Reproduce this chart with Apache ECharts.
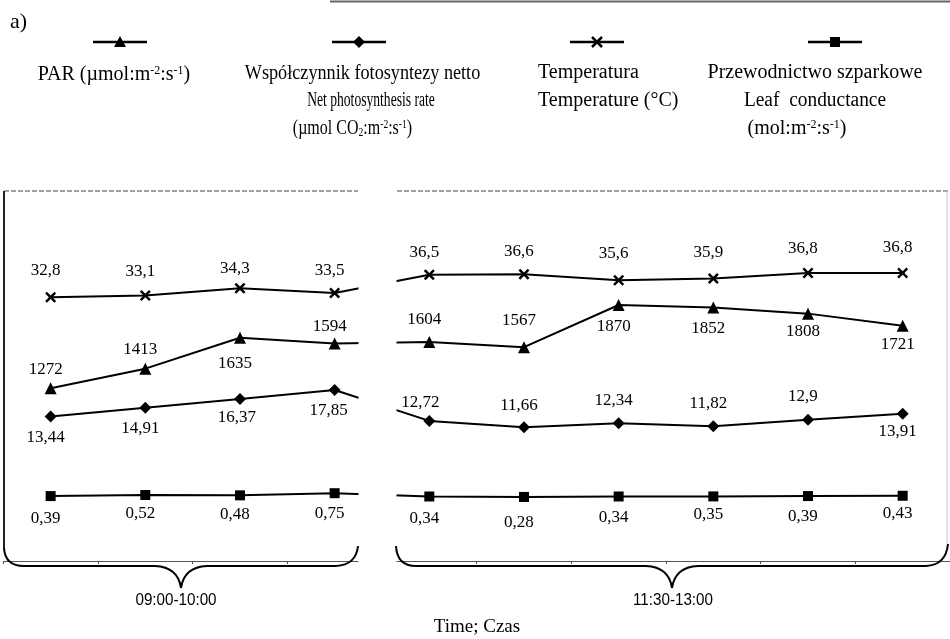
<!DOCTYPE html>
<html><head><meta charset="utf-8">
<script src="https://cdn.jsdelivr.net/npm/echarts@6/dist/echarts.min.js"></script>
<style>html,body{margin:0;padding:0;background:#fff}#c{width:950px;height:639px}</style>
</head><body><div id="c"></div>
<script>
// ---- data ----
const categories = ['1','2','3','4','5','6','7','8','9','10'];
const groupLabels = ['09:00-10:00', '11:30-13:00'];
const axisTitle = 'Time; Czas';
const parValues   = [1272, 1413, 1635, 1594, 1604, 1567, 1870, 1852, 1808, 1721];
const photoValues = [13.44, 14.91, 16.37, 17.85, 12.72, 11.66, 12.34, 11.82, 12.9, 13.91];
const tempValues  = [32.8, 33.1, 34.3, 33.5, 36.5, 36.6, 35.6, 35.9, 36.8, 36.8];
const condValues  = [0.39, 0.52, 0.48, 0.75, 0.34, 0.28, 0.34, 0.35, 0.39, 0.43];

// ---- layout / style (not data) ----
const SERIF = 'Liberation Serif';
const SANS = 'Liberation Sans';
const INK = '#000';
const parDy   = [-19, -19, 26, -17, -23, -27, 22, 21, 18, 19];
const photoDy = [21, 21, 19, 21, -18, -22, -23, -23, -23, 18];
const photoDx = [-5, -5, -3, -6, -9, -5, -5, -5, -5, -5];
const tempDy  = [-27, -24, -20, -23, -22, -23, -27, -26, -24, -25];
const condDy  = [22, 18, 19, 20, 22, 26, 21, 18, 20, 18];
const yRanges = { par: [32.2, 2767.3], photo: [-10.51, 52.67], temp: [-10.57, 52.09], cond: [-7.725, 39.9] };

const crossPath = 'path://M0,1.6L1.6,0L5,3.4L8.4,0L10,1.6L6.6,5L10,8.4L8.4,10L5,6.6L1.6,10L0,8.4L3.4,5Z';
const fmt = v => String(v).replace('.', ',');

function items(values, dy, dx) {
  return values.map((v, i) => ({
    value: v,
    label: { offset: [dx ? dx[i] : -5, dy[i]] }
  }));
}

function lineSeries(name, values, yIdx, symbol, size, dy, dx) {
  return {
    name, type: 'line', yAxisIndex: yIdx,
    data: items(values, dy, dx),
    symbol, symbolSize: size,
    lineStyle: { color: INK, width: 2 },
    itemStyle: { color: INK },
    label: {
      show: true, position: 'inside',
      fontFamily: SERIF, fontSize: 17, color: INK,
      formatter: p => fmt(p.value)
    },
    z: 5
  };
}

const supStyle = { fontFamily: SERIF, fontSize: 12, verticalAlign: 'top', fill: INK };
const subStyle = { fontFamily: SERIF, fontSize: 12, verticalAlign: 'bottom', fill: INK };
function txt(text, x, y, align, sx) {
  return {
    type: 'text', z: 110, x, y, scaleX: sx || 1,
    style: {
      text, x: 0, y: 0, align: align || 'center', verticalAlign: 'middle',
      fontFamily: SERIF, fontSize: 20, fill: INK,
      rich: { sup: supStyle, sub: subStyle }
    }
  };
}
function plain(text, x, y, family, size, sx) {
  return {
    type: 'text', z: 110, x, y, scaleX: sx || 1,
    style: { text, x: 0, y: 0, align: 'center', verticalAlign: 'middle', fontFamily: family, fontSize: size, fill: INK }
  };
}
function seg(x1, y1, x2, y2, stroke, w, dash) {
  const s = { stroke: stroke || INK, lineWidth: w || 2 };
  if (dash) s.lineDash = dash;
  return { type: 'line', z: 110, shape: { x1, y1, x2, y2 }, style: s };
}
function curve(x1, y1, cx, cy, x2, y2) {
  return { type: 'bezierCurve', z: 110, shape: { x1, y1, x2, y2, cpx1: cx, cpy1: cy }, style: { stroke: INK, lineWidth: 2, fill: null } };
}
function brace(xL, xR, xP, yTopEnd, yH, yP) {
  return [
    curve(xL, yTopEnd, xL + 1, yH, xL + 20, yH),
    seg(xL + 20, yH, xP - 26, yH),
    curve(xP - 26, yH, xP - 3, yH + 1, xP, yP),
    curve(xP, yP, xP + 3, yH + 1, xP + 26, yH),
    seg(xP + 26, yH, xR - 22, yH),
    curve(xR - 22, yH, xR - 2, yH - 1, xR, yTopEnd - 2)
  ];
}

const chart = echarts.init(document.getElementById('c'), null, { renderer: 'canvas' });

const graphics = [
  { type: 'text', z: 110, style: { text: 'a)', x: 10, y: 22, verticalAlign: 'middle', fontFamily: SERIF, fontSize: 22, fill: INK } },
  seg(330, 1.5, 950, 1.5, '#666', 2),
  // legend icons
  seg(93, 42, 147, 42, INK, 2.5),
  { type: 'polygon', z: 111, shape: { points: [[114, 47], [120, 36], [126, 47]] }, style: { fill: INK } },
  seg(332, 42, 386, 42, INK, 2.5),
  { type: 'polygon', z: 111, shape: { points: [[359, 36], [365, 42], [359, 48], [353, 42]] }, style: { fill: INK } },
  seg(570, 42, 624, 42, INK, 2.5),
  { type: 'line', z: 111, shape: { x1: 592, y1: 37, x2: 602, y2: 47 }, style: { stroke: INK, lineWidth: 2.5 } },
  { type: 'line', z: 111, shape: { x1: 602, y1: 37, x2: 592, y2: 47 }, style: { stroke: INK, lineWidth: 2.5 } },
  seg(808, 42, 862, 42, INK, 2.5),
  { type: 'rect', z: 111, shape: { x: 830, y: 37, width: 10, height: 10 }, style: { fill: INK } },
  // legend texts
  txt('PAR (µmol:m{sup|-2}:s{sup|-1})', 114, 75, 'center', 1.0),
  txt('Współczynnik fotosyntezy netto', 362.5, 74, 'center', 0.91),
  txt('Net photosynthesis rate', 371, 101, 'center', 0.68),
  txt('(µmol CO{sub|2}:m{sup|-2}:s{sup|-1})', 352.5, 129, 'center', 0.8),
  txt('Temperatura', 538, 73, 'left', 1.0),
  txt('Temperature (°C)', 538, 101, 'left', 1.0),
  txt('Przewodnictwo szparkowe', 815, 73, 'center', 1.0),
  txt('Leaf  conductance', 815, 101, 'center', 0.97),
  txt('(mol:m{sup|-2}:s{sup|-1})', 797, 129, 'center', 1.0),
  // gap between the two panels
  { type: 'rect', z: 100, shape: { x: 358.5, y: 175, width: 38, height: 400 }, style: { fill: '#fff' } },
  // frames
  seg(4, 191, 358, 191, '#444', 1.2, [5, 2]),
  seg(397, 191, 948, 191, '#444', 1.2, [5, 2]),
  seg(947, 191, 947, 545, '#ccc', 1),
  seg(4, 191, 4, 548, '#222', 2),
  ...brace(4, 358, 181, 548, 566, 588),
  ...brace(396, 948, 672, 546, 566, 588),
  // group labels and title
  plain(groupLabels[0], 176, 601, SANS, 16, 0.95),
  plain(groupLabels[1], 673, 601, SANS, 16, 0.95),
  plain(axisTitle, 477, 627, SERIF, 19, 1)
];

const yAxis = ['par', 'photo', 'temp', 'cond'].map(k => ({
  type: 'value', show: false, min: yRanges[k][0], max: yRanges[k][1],
  splitLine: { show: false }
}));

chart.setOption({
  animation: false,
  backgroundColor: '#fff',
  grid: { left: 3.3, top: 180, width: 947.7, height: 381, containLabel: false },
  xAxis: {
    type: 'category', data: categories, boundaryGap: true, position: 'bottom',
    axisLine: { onZero: false, lineStyle: { color: '#555', width: 1 } },
    axisTick: { show: true, length: 3, lineStyle: { color: '#555' } },
    axisLabel: { show: false },
    splitLine: { show: false }
  },
  yAxis,
  series: [
    lineSeries('PAR', parValues, 0, 'triangle', 12, parDy),
    lineSeries('Współczynnik fotosyntezy netto / Net photosynthesis rate', photoValues, 1, 'diamond', 12, photoDy, photoDx),
    lineSeries('Temperatura / Temperature (°C)', tempValues, 2, crossPath, 11, tempDy),
    lineSeries('Przewodnictwo szparkowe / Leaf conductance', condValues, 3, 'rect', 10, condDy)
  ],
  graphic: graphics
});
</script>
</body></html>
